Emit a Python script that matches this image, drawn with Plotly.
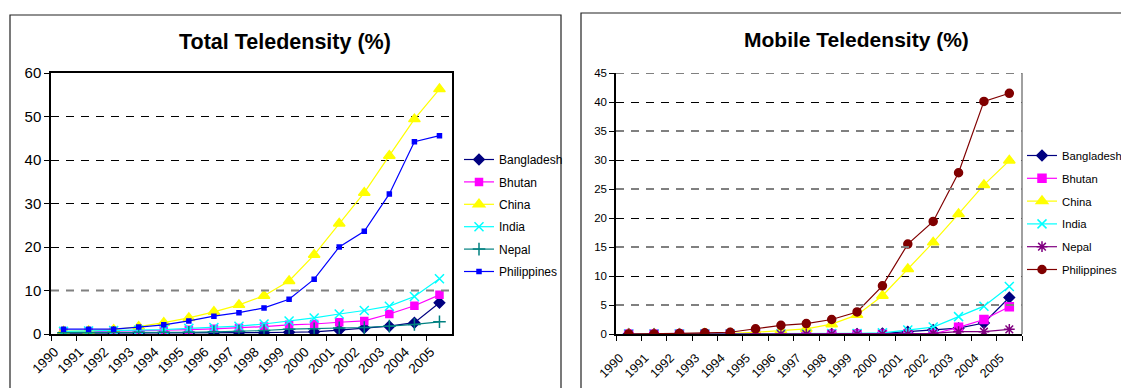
import plotly.graph_objects as go

# ---- data -------------------------------------------------------------
years = [str(y) for y in range(1990, 2006)]
countries = ["Bangladesh", "Bhutan", "China", "India", "Nepal", "Philippines"]

# Total teledensity (%)
total_bangladesh = [0.2, 0.2, 0.2, 0.2, 0.2, 0.2, 0.3, 0.3, 0.3, 0.4, 0.5, 0.9, 1.4, 1.8, 2.6, 7.2]
total_bhutan = [0.4, 0.5, 0.6, 0.7, 0.8, 1.0, 1.2, 1.4, 1.7, 2.1, 2.3, 2.7, 3.0, 4.6, 6.5, 9.0]
total_china = [0.6, 0.7, 1.0, 1.7, 2.6, 3.7, 5.1, 6.7, 8.8, 12.2, 18.2, 25.4, 32.5, 41.0, 49.4, 56.3]
total_india = [0.6, 0.7, 0.8, 0.9, 1.0, 1.3, 1.5, 1.8, 2.3, 3.0, 3.7, 4.6, 5.4, 6.4, 8.6, 12.7]
total_nepal = [0.3, 0.3, 0.4, 0.4, 0.4, 0.4, 0.5, 0.6, 0.8, 1.1, 1.2, 1.4, 1.5, 1.8, 2.2, 2.8]
total_philippines = [1.1, 1.1, 1.1, 1.6, 2.1, 3.0, 4.1, 4.9, 6.0, 8.0, 12.6, 20.0, 23.6, 32.2, 44.2, 45.6]

# Mobile teledensity (%)
mobile_bangladesh = [0, 0, 0, 0, 0, 0, 0, 0, 0, 0, 0.1, 0.4, 0.7, 1.0, 1.9, 6.3]
mobile_bhutan = [0, 0, 0, 0, 0, 0, 0, 0, 0, 0, 0, 0, 0, 1.15, 2.5, 4.7]
mobile_china = [0, 0, 0, 0.1, 0.1, 0.3, 0.6, 0.9, 1.7, 3.3, 6.6, 11.2, 15.8, 20.7, 25.7, 29.9]
mobile_india = [0, 0, 0, 0, 0, 0, 0, 0, 0.1, 0.1, 0.2, 0.7, 1.2, 3.0, 4.8, 8.2]
mobile_nepal = [0, 0, 0, 0, 0, 0, 0, 0, 0, 0, 0, 0, 0.1, 0.4, 0.4, 0.8]
mobile_philippines = [0, 0, 0.1, 0.2, 0.3, 0.9, 1.5, 1.8, 2.5, 3.8, 8.3, 15.5, 19.4, 27.8, 40.1, 41.5]

total_ticks = [0, 10, 20, 30, 40, 50, 60]
mobile_ticks = [0, 5, 10, 15, 20, 25, 30, 35, 40, 45]

# ---- layout helpers ---------------------------------------------------
W, H = 1121, 388
FONT = "Liberation Sans, Arial, sans-serif"


def px(x):
    return x / W


def py(y):
    return 1 - y / H


fig = go.Figure()

total_series = [total_bangladesh, total_bhutan, total_china,
                total_india, total_nepal, total_philippines]
mobile_series = [mobile_bangladesh, mobile_bhutan, mobile_china,
                 mobile_india, mobile_nepal, mobile_philippines]

total_style = [
    dict(color="#000080", symbol="diamond", size=8),
    dict(color="#FF00FF", symbol="square", size=7),
    dict(color="#FFFF00", symbol="triangle-up", size=10),
    dict(color="#00FFFF", symbol="x-thin-open", size=9),
    dict(color="#008080", symbol="cross-thin-open", size=9),
    dict(color="#0000FF", symbol="square", size=4),
]
mobile_style = [
    dict(color="#000080", symbol="diamond", size=8),
    dict(color="#FF00FF", symbol="square", size=8),
    dict(color="#FFFF00", symbol="triangle-up", size=10),
    dict(color="#00FFFF", symbol="x-thin-open", size=9),
    dict(color="#800080", symbol="asterisk-open", size=9),
    dict(color="#800000", symbol="circle", size=8),
]

for name, vals, st in zip(countries, total_series, total_style):
    fig.add_trace(go.Scatter(
        x=years, y=vals, name=name, mode="lines+markers",
        line=dict(color=st["color"], width=1.2),
        marker=dict(symbol=st["symbol"], size=st["size"], color=st["color"],
                    line=dict(color=st["color"], width=1.5)),
        xaxis="x", yaxis="y", legend="legend", legendgroup="t" + name,
    ))

for name, vals, st in zip(countries, mobile_series, mobile_style):
    fig.add_trace(go.Scatter(
        x=years, y=vals, name=name, mode="lines+markers",
        line=dict(color=st["color"], width=1.2),
        marker=dict(symbol=st["symbol"], size=st["size"], color=st["color"],
                    line=dict(color=st["color"], width=1.5)),
        xaxis="x2", yaxis="y2", legend="legend2", legendgroup="m" + name,
    ))

axis_common = dict(
    showline=True, linecolor="black", linewidth=1.5,
    ticks="outside", ticklen=5, tickcolor="black", tickwidth=1,
    zeroline=False, automargin=False,
)

fig.update_layout(
    width=W, height=H,
    margin=dict(l=0, r=0, t=0, b=0, autoexpand=False),
    paper_bgcolor="white", plot_bgcolor="white",
    font=dict(family=FONT, color="black"),
    xaxis=dict(domain=[px(51), px(452)], anchor="y", type="category",
               range=[-0.5, 15.5], tickson="boundaries", tickangle=-45,
               tickfont=dict(size=13.5), ticklabelshift=-9, ticklabelstandoff=3,
               showgrid=False, mirror=True, **axis_common),
    yaxis=dict(domain=[py(334), py(73)], anchor="x", range=[0, 60],
               tickvals=total_ticks, tickfont=dict(size=15),
               showgrid=True, gridcolor="black", gridwidth=1,
               griddash="8px,7px", mirror=True, **axis_common),
    xaxis2=dict(domain=[px(616), px(1022)], anchor="y2", type="category",
                range=[-0.5, 15.5], tickson="boundaries", tickangle=-45,
                tickfont=dict(size=12.5), ticklabelshift=-9, ticklabelstandoff=10,
                showgrid=False, **axis_common),
    yaxis2=dict(domain=[py(334), py(73)], anchor="x2", range=[0, 45],
                tickvals=mobile_ticks, tickfont=dict(size=11.5),
                showgrid=True, gridcolor="black", gridwidth=1,
                griddash="8px,7px", **axis_common),
    legend=dict(x=px(459), y=py(145), xanchor="left", yanchor="top",
                bgcolor="rgba(0,0,0,0)", font=dict(size=12),
                tracegroupgap=3.4, itemwidth=30),
    legend2=dict(x=px(1022), y=py(141), xanchor="left", yanchor="top",
                 bgcolor="rgba(0,0,0,0)", font=dict(size=11.3),
                 tracegroupgap=3.8, itemwidth=30),
    showlegend=True,
)

# chart titles
fig.add_annotation(text="<b>Total Teledensity (%)</b>", xref="paper", yref="paper",
                   x=px(285), y=py(42), xanchor="center", yanchor="middle",
                   showarrow=False, font=dict(size=21.5))
fig.add_annotation(text="<b>Mobile Teledensity (%)</b>", xref="paper", yref="paper",
                   x=px(856), y=py(40), xanchor="center", yanchor="middle",
                   showarrow=False, font=dict(size=21))

# lighter gridlines drawn over alternate grid positions
for v in [10]:
    fig.add_shape(type="line", xref="x domain", yref="y", x0=0, x1=1, y0=v, y1=v,
                  line=dict(color="#808080", width=2, dash="8px,7px"))
for v in [5, 15, 25, 35, 45]:
    fig.add_shape(type="line", xref="x2 domain", yref="y2", x0=0, x1=1, y0=v, y1=v,
                  line=dict(color="#808080", width=2, dash="8px,7px"))
# right edge of mobile plot area
fig.add_shape(type="line", xref="x2 domain", yref="y2 domain", x0=1, x1=1, y0=0, y1=1,
              line=dict(color="#808080", width=1.5))

# chart frames
fig.add_shape(type="rect", xref="paper", yref="paper",
              x0=px(10), x1=px(561), y0=-0.2, y1=py(15),
              line=dict(color="#222", width=1.2))
fig.add_shape(type="rect", xref="paper", yref="paper",
              x0=px(581), x1=px(1140), y0=-0.2, y1=py(13),
              line=dict(color="#222", width=1.2))

fig.write_html("out.html")
